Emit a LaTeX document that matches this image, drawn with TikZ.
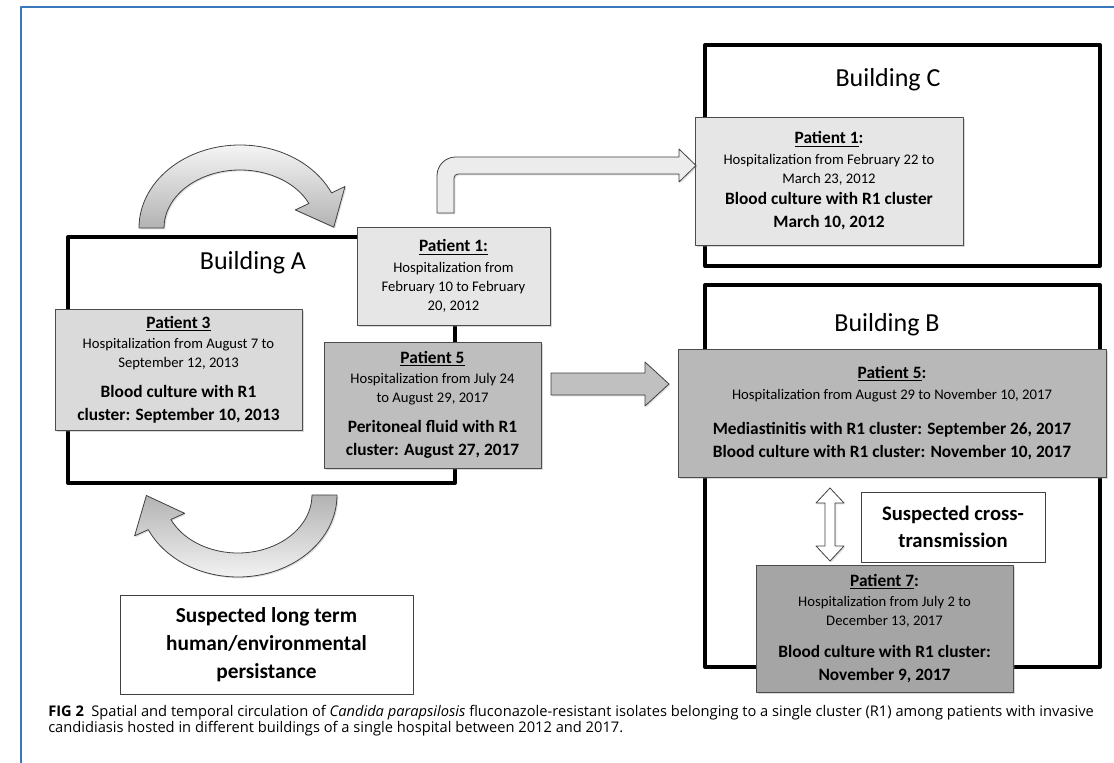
\documentclass[tikz,border=0pt]{standalone}
\usepackage{fontspec}
\setmainfont{Carlito}
\newfontfamily\capfont{Open Sans}
\usetikzlibrary{shadows,fit,calc}

\definecolor{frameblue}{RGB}{58,120,188}
\definecolor{fillone}{RGB}{230,230,230}
\definecolor{filltwo}{RGB}{218,218,218}
\definecolor{fillthree}{RGB}{190,190,190}
\definecolor{fillfour}{RGB}{184,184,184}
\definecolor{fillfive}{RGB}{165,165,165}
\definecolor{arrowgray}{RGB}{192,192,192}
\definecolor{arrowpale}{RGB}{236,236,236}

% text sizes
\newcommand{\hsz}{\fontsize{11}{14.25}\selectfont}
\newcommand{\bsz}{\fontsize{13}{15}\selectfont\bfseries}
\newcommand{\ptitle}[1]{{\bsz\underline{#1}}}

\begin{document}
\begin{tikzpicture}[
  x=0.75pt, y=-0.75pt,
  line join=round,
  bldg/.style={line width=3pt},
  blab/.style={font=\fontsize{19.5}{23}\selectfont, inner sep=0pt},
  pbox/.style={draw=black!70, line width=0.6pt, inner sep=0pt,
    drop shadow={shadow xshift=1.2pt, shadow yshift=-1.2pt, opacity=0.3}},
  ptxt/.style={font=\hsz, align=center, inner sep=0pt},
  note/.style={draw=black!75, line width=0.6pt, fill=white, inner sep=0pt},
  ntxt/.style={font=\fontsize{15.5}{20}\selectfont\bfseries, align=center, inner sep=0pt},
  blk/.style={draw=black!75, line width=0.6pt,
    drop shadow={shadow xshift=1pt, shadow yshift=-1pt, opacity=0.25}},
  captxt/.style={anchor=west, inner sep=0pt, font=\capfont\fontsize{11}{13}\selectfont}
]
\useasboundingbox (0,0) rectangle (1114,763);

% --- page frame ---
\draw[frameblue, line width=1.2pt] (1114,7) -- (21,7) -- (21,763);

% --- buildings ---
\draw[bldg] (68,237) rectangle (455,483);
\draw[bldg] (705,45) rectangle (1100,266);
\draw[bldg] (705,285) rectangle (1100,667);
\node[blab] (labA) at (253,263) {Building A};
\node[blab] (labC) at (888,80) {Building C};
\node[blab] (labB) at (887,325) {Building B};

% --- building A patients ---
\node[pbox, fill=fillone, fit={(357,227) (550,325)}] (pOneA) {};
\node[ptxt] (pOneA-t) at (pOneA.center) {\ptitle{Patient 1:}\\[1pt]
  Hospitalization from\\ February 10 to February\\ 20, 2012};

\node[pbox, fill=filltwo, fit={(55,309) (302,430)}] (pThree) {};
\node[ptxt] (pThree-t) at (pThree.center) {\ptitle{Patient 3}\\[1pt]
  Hospitalization from August 7 to\\ September 12, 2013\\[8pt]
  {\bsz Blood culture with R1}\\[3pt] {\bsz cluster: September 10, 2013}};

\node[pbox, fill=fillthree, fit={(324,342) (541,468)}] (pFiveA) {};
\node[ptxt] (pFiveA-t) at (pFiveA.center) {\ptitle{Patient 5}\\[1pt]
  Hospitalization from July 24\\ to August 29, 2017\\[8pt]
  {\bsz Peritoneal fluid with R1}\\[3pt] {\bsz cluster: August 27, 2017}};

% --- building C patient ---
\node[pbox, fill=fillone, fit={(695,117) (963,245)}] (pOneC) {};
\node[ptxt] (pOneC-t) at (pOneC.center) {\ptitle{Patient 1}{\bsz:}\\[1pt]
  Hospitalization from February 22 to\\ March 23, 2012\\[2pt]
  {\bsz Blood culture with R1 cluster}\\[3pt] {\bsz March 10, 2012}};

% --- building B patients ---
\node[pbox, fill=fillfour, fit={(678,349) (1106,477)}] (pFiveB) {};
\node[ptxt] (pFiveB-t) at (pFiveB.center) {\ptitle{Patient 5}{\bsz:}\\[2pt]
  Hospitalization from August 29 to November 10, 2017\\[12pt]
  {\bsz Mediastinitis with R1 cluster: September 26, 2017}\\[3pt]
  {\bsz Blood culture with R1 cluster: November 10, 2017}};

\node[pbox, fill=fillfive, fit={(756,565) (1013,692)}] (pSeven) {};
\node[ptxt] (pSeven-t) at (pSeven.center) {\ptitle{Patient 7}{\bsz:}\\[1pt]
  Hospitalization from July 2 to\\ December 13, 2017\\[10pt]
  {\bsz Blood culture with R1 cluster:}\\[3pt] {\bsz November 9, 2017}};

% --- remarks ---
\node[note, fit={(861,492) (1045,562)}] (cross) {};
\node[ntxt] (cross-t) at (cross.center) {Suspected cross-\\transmission};

\node[note, fit={(120,595) (413,694)}] (persist) {};
\node[ntxt, font=\fontsize{16}{21}\selectfont\bfseries] (persist-t) at (persist.center)
  {Suspected long term\\human/environmental\\persistance};

% --- block arrows ---
% loop over building A, top
\path[blk, top color=gray!8, bottom color=gray!60]
  (139,228) arc[start angle=180, end angle=335, x radius=101, y radius=83]
  -- (345,186.5) -- (333.8,227.2) -- (295.3,209.9) -- (308.9,203.5)
  arc[start angle=335, end angle=180, x radius=76, y radius=58] -- cycle;
% loop under building A
\path[blk, top color=gray!60, bottom color=gray!10]
  (337,495) arc[start angle=0, end angle=155, x radius=99, y radius=82]
  -- (134.6,535.9) -- (146.4,495.5) -- (184.6,513.3) -- (170.9,519.5)
  arc[start angle=155, end angle=0, x radius=74, y radius=58] -- cycle;
% transfer to building C
\path[blk, fill=arrowpale]
  (437,213) [rounded corners=14pt] -- (437,157) [sharp corners] -- (679,157)
  -- (679,149) -- (696,165.5) -- (679,182) -- (679,174)
  [rounded corners=3pt] -- (454,174) [sharp corners] -- (454,213) -- cycle;
% transfer to building B
\path[blk, fill=arrowgray]
  (551,373) -- (645,373) -- (645,362) -- (669,384) -- (645,406) -- (645,395)
  -- (551,395) -- cycle;
% cross-transmission in building B
\path[blk, fill=white]
  (830,488) -- (844,503) -- (835,503) -- (835,546) -- (844,546) -- (830,561)
  -- (816,546) -- (825,546) -- (825,503) -- (816,503) -- cycle;

% --- caption ---
\node[captxt] (cap1) at (48,713)
  {\textbf{FIG 2}\enspace Spatial and temporal circulation of \textit{Candida parapsilosis} fluconazole-resistant isolates belonging to a single cluster (R1) among patients with invasive};
\node[captxt] (cap2) at (48,729)
  {candidiasis hosted in different buildings of a single hospital between 2012 and 2017.};
\end{tikzpicture}
\end{document}
